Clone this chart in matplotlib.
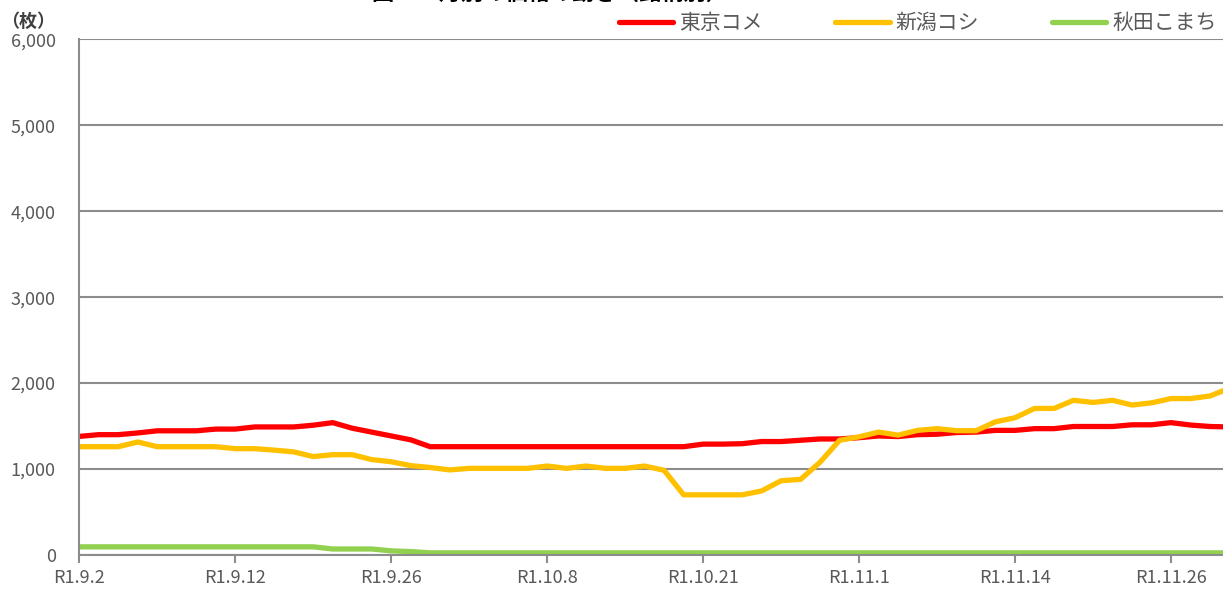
import numpy as np
import matplotlib
matplotlib.use("Agg")
import matplotlib.pyplot as plt

plt.rcParams['font.family'] = ['Noto Sans CJK JP', 'DejaVu Sans']

# trading days R1.9.2 .. end of Nov (60 points), ticks every 8 days
tick_labels = ['R1.9.2', 'R1.9.12', 'R1.9.26', 'R1.10.8', 'R1.10.21',
               'R1.11.1', 'R1.11.14', 'R1.11.26']
tick_idx = [0, 8, 16, 24, 32, 40, 48, 56]

tokyo = [1380, 1400, 1400, 1420, 1445, 1445, 1445, 1465, 1465, 1490,
         1490, 1490, 1510, 1540, 1475, 1430, 1385, 1340,
         1260, 1260, 1260, 1260, 1260, 1260, 1260, 1260, 1260, 1260,
         1260, 1260, 1260, 1260,
         1290, 1290, 1295, 1320, 1320, 1335, 1350, 1350, 1365, 1385,
         1378, 1400, 1405, 1425, 1430, 1450, 1450, 1470, 1470, 1495,
         1495, 1495, 1515, 1515, 1540, 1512, 1495, 1490]
niigata = [1260, 1260, 1260, 1315, 1260, 1260, 1260, 1260, 1237, 1237,
           1220, 1200, 1145, 1167, 1167, 1110, 1085, 1040, 1018, 990,
           1008, 1008, 1008, 1008, 1035, 1008, 1035, 1008, 1008, 1035,
           985, 700, 700, 700, 700, 745, 864, 880, 1080, 1335,
           1375, 1430, 1395, 1450, 1470, 1446, 1446, 1550, 1597, 1705,
           1705, 1800, 1775, 1800, 1745, 1770, 1820, 1820, 1850, 1940]
akita = [95] * 13 + [70, 70, 70, 48, 40] + [25] * 42

series = [('東京コメ', tokyo, '#FF0000'),
          ('新潟コシ', niigata, '#FFC000'),
          ('秋田こまち', akita, '#92D050')]

W, H = 1223, 594
fig = plt.figure(figsize=(W / 100, H / 100), dpi=100)
left, bottom, top = 79.3, 555, 39.3
ax = fig.add_axes([left / W, (H - bottom) / H, 1 - left / W, (bottom - top) / H])

x = np.arange(len(tokyo))
for name, vals, col in series:
    ax.plot(x, vals, color=col, lw=3.8, label=name, solid_capstyle='round',
            solid_joinstyle='round')

step = (1171 - 79.3) / 56
ax.set_xlim(0, (W - left) / step)
ax.set_ylim(0, 6000)
ax.set_yticks(range(0, 6001, 1000))
ax.set_yticklabels([f'{v:,}' for v in range(0, 6001, 1000)])
ax.set_xticks(tick_idx)
ax.set_xticklabels(tick_labels)

grey = '#8c8c8c'
ax.grid(axis='y', color=grey, lw=1.5)
ax.set_axisbelow(True)
for s in ['top', 'right']:
    ax.spines[s].set_visible(False)
for s in ['left', 'bottom']:
    ax.spines[s].set_color(grey)
    ax.spines[s].set_linewidth(1.5)
ax.tick_params(axis='y', length=0, pad=17, labelsize=13, labelcolor='#595959')
ax.tick_params(axis='x', length=6, width=1.5, color=grey, pad=4,
               labelsize=13, labelcolor='#595959')

fig.text(55 / W, 1 - 21 / H, '（枚）', ha='right', va='center',
         fontsize=13, color='#404040', fontweight='bold')

# title is mostly cut off at the top of the original
fig.text(550 / W, 1 - 5 / H, '図１　月別の価格の動き（銘柄別）', ha='center',
         va='bottom', fontsize=16, fontweight='bold', color='#000000')

fig.legend(loc='center right', bbox_to_anchor=(1217 / W, 1 - 23 / H),
           ncol=3, frameon=False, fontsize=15, handlelength=2.6,
           handletextpad=0.3, columnspacing=3.5, borderpad=0,
           borderaxespad=0, labelcolor='#595959')

fig.savefig('out.png', dpi=100)
